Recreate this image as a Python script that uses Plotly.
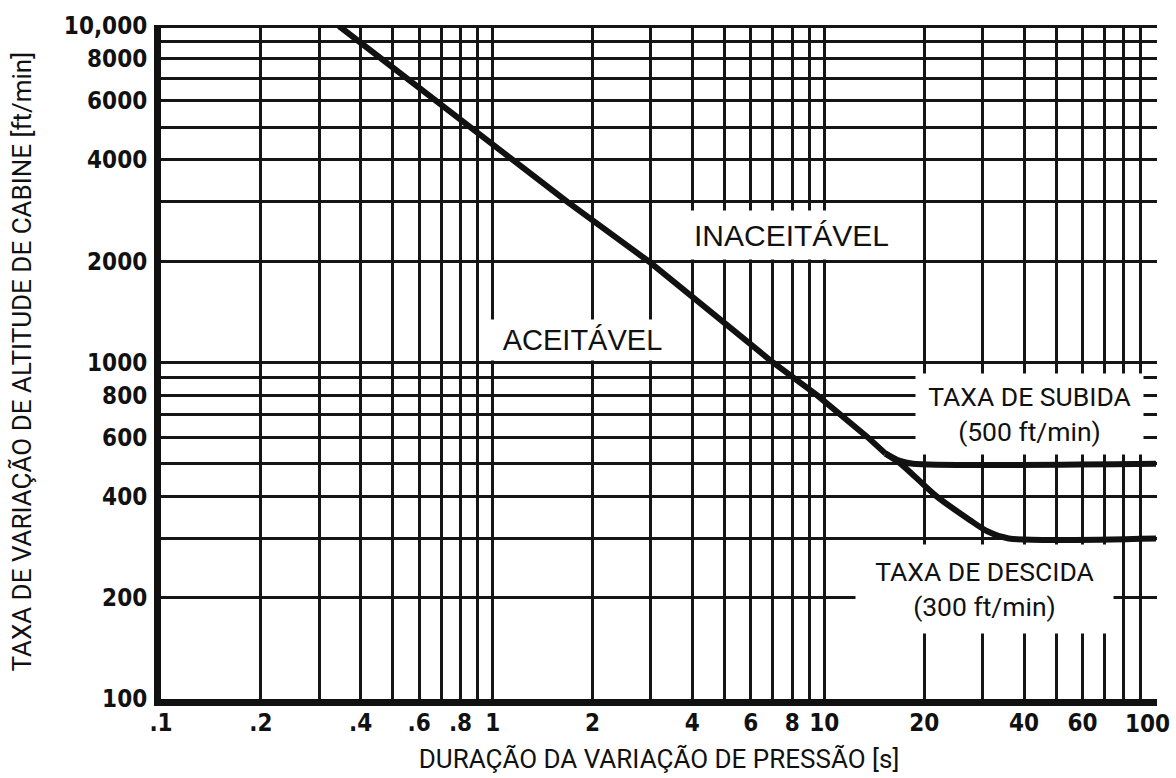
import plotly.graph_objects as go
import math

# ---- data ----
main_x = [0.344, 0.68, 1.15, 1.68, 2.95, 7.0, 9.5, 13.5, 15.3]
main_y = [10000, 6000, 4000, 3000, 2000, 1000, 800, 600, 536]

climb_x = [15.3, 16.8, 18.5, 100]
climb_y = [536, 511, 500, 500]

descent_x = [15.3, 17.0, 21.8, 27.5, 31, 36, 100]
descent_y = [536, 500, 400, 340, 315, 300, 300]

x_grid = [0.1, 0.2, 0.3, 0.4, 0.5, 0.6, 0.7, 0.8, 0.9,
          1, 2, 3, 4, 5, 6, 7, 8, 9,
          10, 20, 30, 40, 50, 60, 70, 80, 90, 100]
x_labels = {0.1: ".1", 0.2: ".2", 0.4: ".4", 0.6: ".6", 0.8: ".8", 1: "1",
            2: "2", 4: "4", 6: "6", 8: "8", 10: "10", 20: "20", 40: "40",
            60: "60"}
x_last_value = 100          # last tick, labelled separately so it stays inside the page
x_last_label = "100"

y_grid = [100, 200, 300, 400, 500, 600, 700, 800, 900,
          1000, 2000, 3000, 4000, 5000, 6000, 7000, 8000, 9000, 10000]
y_labels = {100: "100", 200: "200", 400: "400", 600: "600", 800: "800",
            1000: "1000", 2000: "2000", 4000: "4000", 6000: "6000",
            8000: "8000", 10000: "10,000"}

x_title = "DURAÇÃO DA VARIAÇÃO DE PRESSÃO [s]"
y_title = "TAXA DE VARIAÇÃO DE ALTITUDE DE CABINE [ft/min]"

# ---- figure ----
ink = "#111111"
fig = go.Figure()
fig.add_trace(go.Scatter(x=main_x, y=main_y, mode="lines",
                         line=dict(color=ink, width=6), hoverinfo="skip"))
branch_style = dict(color=ink, width=6, shape="spline", smoothing=0.7)
fig.add_trace(go.Scatter(x=climb_x, y=climb_y, mode="lines", line=branch_style, hoverinfo="skip"))
fig.add_trace(go.Scatter(x=descent_x, y=descent_y, mode="lines", line=branch_style, hoverinfo="skip"))

tick_font = dict(family="DejaVu Sans Condensed, DejaVu Sans", size=24, color=ink, weight="bold")
title_font = dict(family="Roboto, Liberation Sans, Arial", size=26, color=ink)
label_font = dict(family="Liberation Sans, Arial", size=30, color=ink)
label_font_b = dict(family="Liberation Sans, Arial", size=29, color=ink)
label_font2 = dict(family="Roboto, Liberation Sans, Arial", size=26.5, color=ink)

fig.update_xaxes(
    type="log", range=[-1, 2.003],
    tickvals=x_grid, ticktext=[x_labels.get(v, "") for v in x_grid],
    tickangle=0, ticks="", tickfont=tick_font, ticklabelstandoff=-4,
    showgrid=True, gridcolor="#151515", gridwidth=2.8,
    showline=True, linecolor=ink, linewidth=7,
    zeroline=False,
    title=dict(text=x_title, font=title_font, standoff=17),
)
fig.update_yaxes(
    type="log", range=[2, 4.003],
    tickvals=y_grid, ticktext=[y_labels.get(v, "") for v in y_grid],
    ticks="", tickfont=tick_font, ticklabelstandoff=2,
    ticklabeloverflow="allow",
    showgrid=True, gridcolor="#151515", gridwidth=2.8,
    showline=True, linecolor=ink, linewidth=7,
    zeroline=False,
)

# label of the last x tick, nudged left so it is not clipped by the page edge
fig.add_annotation(x=math.log10(x_last_value), y=0, xref="x", yref="paper",
                   text=x_last_label, showarrow=False, font=tick_font,
                   xanchor="center", yanchor="top", xshift=-9, yshift=-9)

# y axis title placed as rotated text left of the tick labels
fig.add_annotation(x=-0.14, y=0.50, xref="paper", yref="paper", text=y_title,
                   textangle=-90, showarrow=False, font=title_font,
                   xanchor="center", yanchor="middle")

def box_label(text, lx, ly, w, h, font):
    fig.add_annotation(x=lx, y=ly, xref="x", yref="y", text=text, showarrow=False,
                       font=font, bgcolor="white", width=w, height=h,
                       xanchor="center", yanchor="middle", align="center", borderpad=0)

box_label("INACEITÁVEL", 0.900, 3.380, 205, 48, label_font)
box_label("ACEITÁVEL", 0.271, 3.068, 185, 40, label_font_b)
box_label("TAXA DE SUBIDA<br>(500 ft/min)", 1.620, 2.848, 227, 80, label_font2)
box_label("TAXA DE DESCIDA<br>(300 ft/min)", 1.482, 2.326, 257, 88, label_font2)

fig.update_layout(
    width=1176, height=778,
    margin=dict(l=161, r=19, t=25, b=79, autoexpand=False),
    paper_bgcolor="white", plot_bgcolor="white",
    showlegend=False,
)

fig.write_html("out.html")
